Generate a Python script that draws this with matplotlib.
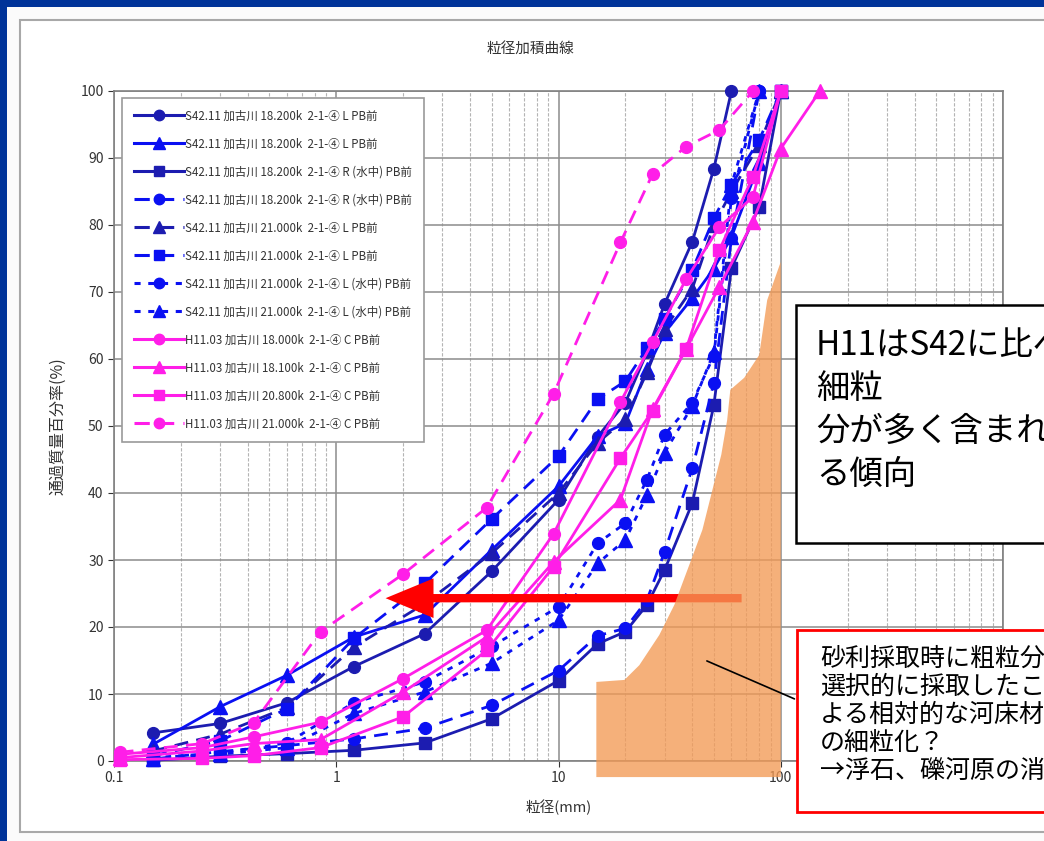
import matplotlib
matplotlib.use("Agg")
import matplotlib.pyplot as plt
from matplotlib.lines import Line2D
from matplotlib.patches import Rectangle, Polygon
import numpy as np

plt.rcParams['font.family'] = ['Noto Sans CJK JP', 'DejaVu Sans']

# ---- sieve sizes (mm) ----
sieve_s42 = [0.15, 0.3, 0.6, 1.2, 2.5, 5, 10, 15, 20, 25, 30, 40, 50, 60, 80, 100]
sieve_h11 = [0.106, 0.25, 0.425, 0.85, 2, 4.75, 9.5, 19, 26.5, 37.5, 53, 75, 100, 150]

# ---- percent passing, S42.11 survey ----
s42_182_L_a = [4.2, 5.6, 8.7, 14.1, 19.0, 28.3, 39.0, 48.4, 53.5, 61.0, 68.2, 77.5, 88.4, 100]
s42_182_L_b = [2.5, 8.1, 12.8, 18.5, 21.8, 31.5, 41.0, 48.5, 50.4, 58.5, 63.9, 69.1, 73.5, 78.2, 89.2, 100]
s42_182_R_a = [0.1, 0.7, 1.1, 1.6, 2.7, 6.3, 12.0, 17.5, 19.3, 23.3, 28.5, 38.5, 53.1, 73.6, 82.7, 100]
s42_182_R_b = [0.3, 1.4, 2.3, 3.3, 4.9, 8.3, 13.5, 18.7, 19.8, 24.0, 31.2, 43.7, 56.4, 78.0, 100]
s42_210_L_a = [1.5, 4.0, 8.0, 17.0, 23.5, 31.0, 40.0, 47.5, 51.0, 58.0, 64.5, 70.5, 80.0, 85.0, 92.0, 100]
s42_210_L_b = [0.8, 3.0, 7.8, 18.3, 26.5, 36.1, 45.5, 54.0, 56.7, 61.6, 66.0, 73.3, 81.0, 86.0, 92.7, 100]
s42_210_Lw_a = [0.5, 1.2, 2.7, 8.7, 11.8, 17.1, 23.0, 32.5, 35.5, 42.0, 48.7, 53.5, 60.5, 84.0, 100]
s42_210_Lw_b = [0.3, 1.0, 2.0, 7.1, 10.3, 14.6, 21.0, 29.5, 33.0, 39.7, 46.0, 53.0, 61.0, 86.0, 100]

# ---- percent passing, H11.03 survey ----
h11_180 = [1.0, 2.0, 3.6, 5.8, 12.3, 19.5, 33.9, 53.6, 62.5, 71.9, 79.7, 84.2, 100]
h11_181 = [0.5, 1.5, 2.6, 3.2, 10.3, 18.5, 29.7, 39.0, 52.5, 61.5, 70.8, 80.5, 91.4, 100]
h11_208 = [0.2, 0.4, 0.8, 2.0, 6.6, 16.5, 29.0, 45.2, 52.3, 61.5, 76.3, 87.2, 100]
h11_210 = [1.3, 2.6, 5.7, 19.3, 27.9, 37.8, 54.8, 77.4, 87.6, 91.7, 94.2, 100]

labels = [
    "S42.11 加古川 18.200k  2-1-④ L PB前",
    "S42.11 加古川 18.200k  2-1-④ L PB前",
    "S42.11 加古川 18.200k  2-1-④ R (水中) PB前",
    "S42.11 加古川 18.200k  2-1-④ R (水中) PB前",
    "S42.11 加古川 21.000k  2-1-④ L PB前",
    "S42.11 加古川 21.000k  2-1-④ L PB前",
    "S42.11 加古川 21.000k  2-1-④ L (水中) PB前",
    "S42.11 加古川 21.000k  2-1-④ L (水中) PB前",
    "H11.03 加古川 18.000k  2-1-④ C PB前",
    "H11.03 加古川 18.100k  2-1-④ C PB前",
    "H11.03 加古川 20.800k  2-1-④ C PB前",
    "H11.03 加古川 21.000k  2-1-④ C PB前",
]

x_ticks = [0.1, 1, 10, 100, 1000]
x_ticklabels = ['0.1', '1', '10', '100', '']

navy = '#1c1cb0'
blue = '#0a10f2'
pink = '#ff1ee8'
dash = (0, (5, 3))
dot = (0, (2, 2.5))

series = [
    (sieve_s42, s42_182_L_a, navy, '-', 'o'),
    (sieve_s42, s42_182_L_b, blue, '-', '^'),
    (sieve_s42, s42_182_R_a, navy, '-', 's'),
    (sieve_s42, s42_182_R_b, blue, dash, 'o'),
    (sieve_s42, s42_210_L_a, navy, dash, '^'),
    (sieve_s42, s42_210_L_b, blue, dash, 's'),
    (sieve_s42, s42_210_Lw_a, blue, dot, 'o'),
    (sieve_s42, s42_210_Lw_b, blue, dot, '^'),
    (sieve_h11, h11_180, pink, '-', 'o'),
    (sieve_h11, h11_181, pink, '-', '^'),
    (sieve_h11, h11_208, pink, '-', 's'),
    (sieve_h11, h11_210, pink, dash, 'o'),
]

W, H = 1044, 841
fig = plt.figure(figsize=(W / 100, H / 100), dpi=100)
fig.patch.set_facecolor('white')

# slide frame
fig.add_artist(Rectangle((0, 0), 1, 1, transform=fig.transFigure,
                         facecolor='#fbfbfb', edgecolor='none', zorder=-10))
fig.add_artist(Rectangle((0, 1 - 7 / H), 1, 7 / H, transform=fig.transFigure,
                         facecolor='#003399', edgecolor='none', zorder=-5))
fig.add_artist(Rectangle((0, 0), 7 / W, 1, transform=fig.transFigure,
                         facecolor='#003399', edgecolor='none', zorder=-5))
fig.add_artist(Rectangle((20 / W, 1 - 832 / H), 1.2, (832 - 20) / H,
                         transform=fig.transFigure, facecolor='white',
                         edgecolor='#a8a8a8', lw=1.5, zorder=-4))

ax = fig.add_axes([114 / W, 1 - 761 / H, (1003 - 114) / W, (761 - 91) / H])
ax.set_facecolor('white')
ax.set_xscale('log')
ax.set_xlim(0.1, 1000)
ax.set_ylim(0, 100)
ax.set_yticks(np.arange(0, 101, 10))
ax.set_xticks(x_ticks)
ax.set_xticklabels(x_ticklabels)
ax.tick_params(axis='both', labelsize=10, colors='#333333', length=4, width=0.8)
ax.tick_params(axis='x', which='minor', length=0)
ax.grid(which='major', color='#8c8c8c', lw=1.1)
ax.grid(which='minor', axis='x', color='#b4b4b4', lw=0.8, linestyle=(0, (3, 1.5)))
ax.set_axisbelow(True)
for s in ax.spines.values():
    s.set_color('#808080')
    s.set_linewidth(1.2)

ax.set_xlabel('粒径(mm)', fontsize=10.5, color='#333333', labelpad=10)
ax.set_ylabel('通過質量百分率(%)', fontsize=11.5, color='#333333', labelpad=10)
fig.text(530 / W, 1 - 50 / H, '粒径加積曲線', fontsize=10.5, color='#333333',
         ha='center', va='center')

handles = []
for (xs, ys, c, ls, m), lab in zip(series, labels):
    ms = 8.5 if m != '^' else 9.5
    ax.plot(xs[:len(ys)], ys, color=c, linestyle=ls, lw=2.0, marker=m,
            markersize=ms, markerfacecolor=c, markeredgecolor=c,
            clip_on=False, zorder=3)
    handles.append(Line2D([], [], color=c, linestyle=ls, lw=2.2, marker=m,
                          markersize=ms - 1, markerfacecolor=c, markeredgecolor=c))

leg = ax.legend(handles, labels, loc='upper left',
                bbox_to_anchor=(122 / W, 1 - 98 / H), bbox_transform=fig.transFigure,
                fontsize=8.3, handlelength=4.4, labelspacing=1.3, handletextpad=0.1,
                borderpad=1.0, borderaxespad=0, fancybox=False, framealpha=1,
                edgecolor='#9a9a9a')
leg.get_frame().set_linewidth(1.2)
leg.set_zorder(5)
for t in leg.get_texts():
    t.set_color('#333333')

# red arrow: shift of the curves toward finer grain
ax.annotate('', xy=(1.62, 24.3), xytext=(68.6, 24.3),
            arrowprops=dict(arrowstyle='simple,tail_width=0.2,head_width=0.95,head_length=1.15',
                            mutation_scale=30, color='#ff0000', lw=0),
            zorder=4)

# shaded region of the coarse fraction
band_x = [14.8, 14.8, 19.8, 23.1, 28.4, 33.2, 38.8, 44.4, 49.2, 54.0, 57.4, 59.3,
          68.5, 80.0, 86.9, 100, 100]
band_y = [-2.4, 11.8, 12.1, 14.3, 18.8, 23.3, 29.3, 34.5, 40.4, 45.7, 50.9, 55.4,
          57.2, 60.6, 68.8, 74.5, -2.4]
ax.add_patch(Polygon(np.column_stack([band_x, band_y]), closed=True,
                     facecolor='#f39a55', edgecolor='none', alpha=0.78,
                     clip_on=False, zorder=4.5))

# leader line to the note
ax.annotate('', xy=(797 / W, 1 - 700 / H), xycoords='figure fraction',
            xytext=(45.3, 15.1), textcoords='data',
            arrowprops=dict(arrowstyle='-', color='black', lw=1.2), zorder=6)

# note boxes
fig.add_artist(Rectangle((796 / W, 1 - 543 / H), 0.5, (543 - 305) / H,
                         transform=fig.transFigure, facecolor='white',
                         edgecolor='black', lw=1.8, zorder=8))
fig.text(816 / W, 1 - 328 / H, 'H11はS42に比べ\n細粒\n分が多く含まれ\nる傾向',
         fontsize=24, color='black', ha='left', va='top', linespacing=1.3, zorder=9)

fig.add_artist(Rectangle((797 / W, 1 - 812 / H), 0.5, (812 - 630) / H,
                         transform=fig.transFigure, facecolor='white',
                         edgecolor='#ff0000', lw=2.0, zorder=8))
fig.text(820 / W, 1 - 646 / H,
         '砂利採取時に粗粒分を\n選択的に採取したことに\nよる相対的な河床材料\nの細粒化？\n→浮石、礫河原の消失',
         fontsize=18, color='black', ha='left', va='top', linespacing=1.1, zorder=9)

fig.savefig('out.png', dpi=100)
